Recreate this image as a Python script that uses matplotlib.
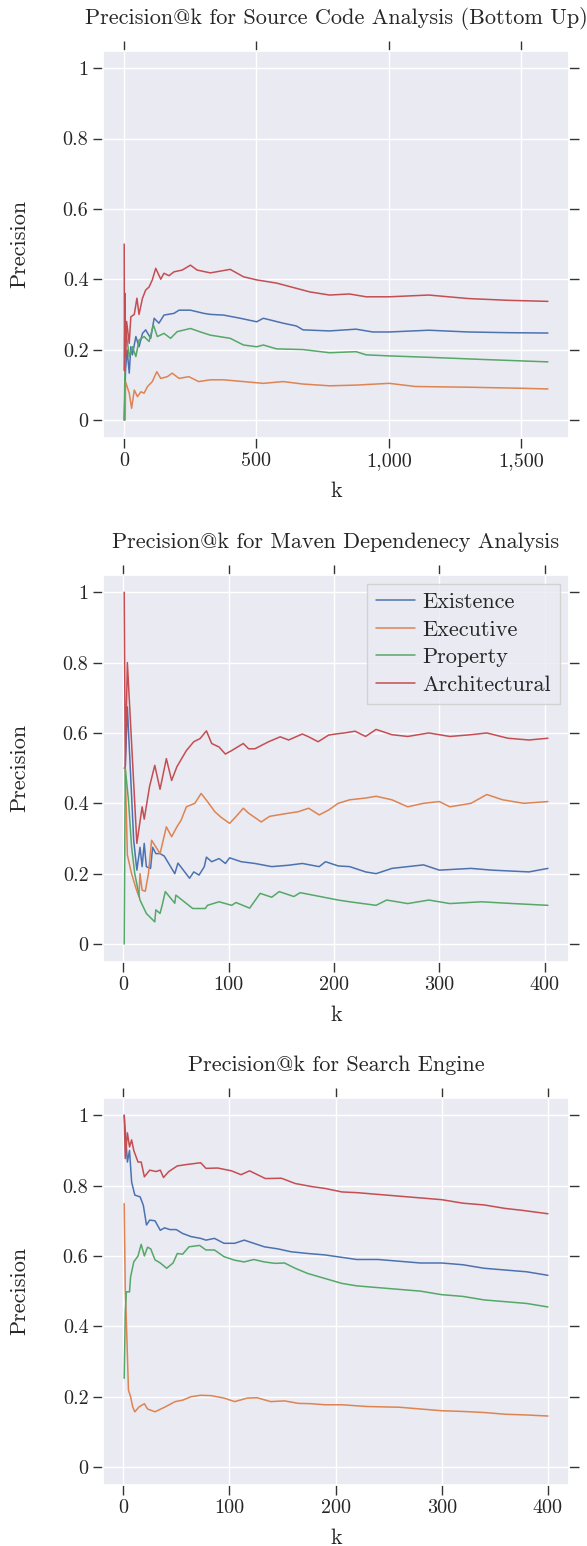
import matplotlib
matplotlib.use("Agg")
import matplotlib.pyplot as plt
import seaborn as sns
from matplotlib.ticker import FuncFormatter

# --- Source code analysis (bottom up) ---
src_k_existence = [1, 6, 12, 20, 26, 32, 45, 57, 70, 82, 101, 114, 132, 151, 189, 208, 251, 301, 326, 376, 439, 501, 526, 601, 651, 676, 776, 876, 939, 1001, 1150, 1300, 1450, 1600]
src_p_existence = [0.0, 0.142, 0.199, 0.133, 0.208, 0.185, 0.237, 0.208, 0.246, 0.256, 0.232, 0.289, 0.275, 0.298, 0.303, 0.312, 0.312, 0.303, 0.3, 0.298, 0.289, 0.279, 0.289, 0.275, 0.267, 0.256, 0.253, 0.258, 0.25, 0.25, 0.255, 0.25, 0.248, 0.247]
src_k_executive = [1, 5, 6, 20, 29, 39, 51, 64, 76, 89, 107, 124, 139, 164, 182, 208, 245, 282, 326, 376, 451, 526, 601, 676, 776, 876, 1001, 1100, 1300, 1500, 1600]
src_p_executive = [0.0, 0.0, 0.109, 0.076, 0.033, 0.085, 0.066, 0.08, 0.076, 0.095, 0.109, 0.137, 0.118, 0.123, 0.133, 0.118, 0.123, 0.109, 0.114, 0.114, 0.109, 0.104, 0.109, 0.102, 0.097, 0.099, 0.104, 0.095, 0.093, 0.09, 0.088]
src_k_property = [1, 6, 12, 20, 32, 45, 57, 76, 95, 111, 126, 151, 176, 201, 251, 289, 326, 401, 451, 501, 526, 576, 676, 776, 876, 914, 1001, 1150, 1350, 1600]
src_p_property = [0.0, 0.265, 0.227, 0.18, 0.208, 0.18, 0.227, 0.237, 0.223, 0.27, 0.237, 0.246, 0.232, 0.251, 0.26, 0.25, 0.241, 0.232, 0.213, 0.208, 0.213, 0.202, 0.2, 0.191, 0.194, 0.185, 0.182, 0.178, 0.172, 0.165]
src_k_architectural = [1, 2, 4, 6, 10, 20, 26, 39, 49, 57, 70, 82, 95, 107, 120, 139, 151, 170, 189, 220, 251, 276, 326, 401, 451, 501, 576, 651, 701, 776, 851, 914, 1001, 1150, 1300, 1450, 1600]
src_p_architectural = [0.5, 0.14, 0.36, 0.18, 0.28, 0.218, 0.293, 0.3, 0.346, 0.3, 0.346, 0.369, 0.378, 0.398, 0.431, 0.4, 0.417, 0.41, 0.421, 0.426, 0.44, 0.426, 0.418, 0.428, 0.407, 0.398, 0.389, 0.374, 0.364, 0.355, 0.358, 0.35, 0.35, 0.355, 0.345, 0.34, 0.337]

# --- Maven dependency analysis ---
mvn_k_existence = [1, 2, 4, 10, 13, 16, 18, 20, 22, 26, 28, 31, 35, 39, 49, 52, 63, 67, 72, 77, 79, 84, 91, 97, 101, 112, 125, 141, 157, 170, 186, 192, 204, 215, 230, 240, 255, 270, 285, 300, 330, 350, 385, 403]
mvn_p_existence = [0.5, 0.5, 0.674, 0.295, 0.21, 0.275, 0.22, 0.286, 0.22, 0.215, 0.275, 0.257, 0.257, 0.25, 0.2, 0.23, 0.187, 0.205, 0.196, 0.22, 0.247, 0.234, 0.243, 0.229, 0.245, 0.234, 0.229, 0.22, 0.224, 0.229, 0.22, 0.234, 0.222, 0.22, 0.205, 0.2, 0.215, 0.22, 0.225, 0.21, 0.215, 0.21, 0.205, 0.215]
mvn_k_executive = [1, 2, 4, 8, 12, 15, 16, 18, 21, 24, 27, 31, 35, 41, 46, 51, 55, 60, 68, 74, 80, 87, 93, 101, 107, 114, 119, 131, 139, 157, 166, 176, 186, 195, 204, 215, 230, 240, 255, 270, 285, 300, 310, 330, 345, 360, 380, 403]
mvn_p_executive = [0.5, 0.5, 0.253, 0.2, 0.16, 0.134, 0.2, 0.153, 0.15, 0.2, 0.295, 0.276, 0.257, 0.333, 0.305, 0.333, 0.352, 0.39, 0.4, 0.428, 0.405, 0.376, 0.36, 0.343, 0.362, 0.386, 0.372, 0.347, 0.363, 0.372, 0.376, 0.386, 0.367, 0.381, 0.4, 0.41, 0.415, 0.42, 0.41, 0.39, 0.4, 0.405, 0.39, 0.4, 0.425, 0.41, 0.4, 0.405]
mvn_k_property = [1, 2, 5, 8, 11, 16, 22, 30, 31, 35, 37, 40, 49, 50, 66, 78, 80, 91, 103, 107, 120, 130, 141, 148, 162, 168, 204, 215, 240, 250, 270, 290, 310, 340, 370, 403]
mvn_p_property = [0.0, 0.5, 0.41, 0.276, 0.2, 0.125, 0.087, 0.063, 0.097, 0.087, 0.11, 0.149, 0.116, 0.139, 0.101, 0.101, 0.11, 0.12, 0.11, 0.118, 0.102, 0.144, 0.133, 0.149, 0.135, 0.146, 0.125, 0.12, 0.11, 0.125, 0.115, 0.125, 0.115, 0.12, 0.115, 0.11]
mvn_k_architectural = [1, 2, 4, 13, 18, 20, 25, 30, 35, 41, 46, 51, 60, 67, 73, 79, 84, 91, 97, 103, 114, 119, 125, 138, 149, 157, 170, 176, 185, 195, 204, 210, 220, 230, 240, 255, 270, 290, 310, 330, 345, 365, 385, 403]
mvn_p_architectural = [1.0, 0.504, 0.8, 0.286, 0.39, 0.355, 0.447, 0.508, 0.44, 0.527, 0.465, 0.504, 0.55, 0.575, 0.584, 0.606, 0.57, 0.56, 0.54, 0.55, 0.57, 0.555, 0.555, 0.575, 0.589, 0.58, 0.597, 0.589, 0.575, 0.594, 0.598, 0.6, 0.605, 0.59, 0.61, 0.595, 0.59, 0.6, 0.59, 0.595, 0.6, 0.585, 0.58, 0.585]

# --- Search engine ---
se_k_existence = [1, 4, 6, 8, 11, 16, 19, 22, 25, 30, 35, 39, 44, 50, 56, 64, 73, 78, 86, 95, 105, 114, 123, 133, 146, 158, 174, 190, 206, 220, 240, 260, 280, 300, 320, 340, 360, 380, 400]
se_p_existence = [1.0, 0.867, 0.9, 0.81, 0.773, 0.768, 0.744, 0.688, 0.702, 0.7, 0.673, 0.68, 0.675, 0.675, 0.664, 0.655, 0.65, 0.645, 0.65, 0.636, 0.636, 0.645, 0.636, 0.626, 0.62, 0.612, 0.607, 0.603, 0.596, 0.59, 0.59, 0.585, 0.58, 0.58, 0.575, 0.565, 0.56, 0.555, 0.545]
se_k_executive = [1, 2, 3, 5, 7, 9, 11, 15, 20, 23, 30, 39, 49, 56, 64, 73, 83, 95, 105, 117, 126, 139, 152, 165, 177, 190, 206, 230, 260, 280, 300, 320, 340, 360, 380, 400]
se_p_executive = [0.749, 0.503, 0.418, 0.219, 0.2, 0.171, 0.157, 0.171, 0.18, 0.165, 0.157, 0.17, 0.186, 0.19, 0.2, 0.204, 0.203, 0.196, 0.186, 0.196, 0.197, 0.186, 0.188, 0.181, 0.18, 0.177, 0.177, 0.172, 0.17, 0.165, 0.16, 0.158, 0.155, 0.15, 0.148, 0.145]
se_k_property = [1, 2, 3, 6, 7, 10, 14, 17, 20, 23, 26, 30, 35, 41, 47, 51, 56, 62, 72, 78, 86, 95, 105, 114, 123, 133, 143, 152, 162, 174, 190, 206, 220, 240, 260, 280, 300, 320, 340, 360, 380, 400]
se_p_property = [0.252, 0.437, 0.498, 0.498, 0.54, 0.583, 0.6, 0.633, 0.6, 0.625, 0.62, 0.589, 0.58, 0.565, 0.58, 0.607, 0.605, 0.626, 0.63, 0.617, 0.617, 0.598, 0.588, 0.583, 0.59, 0.583, 0.579, 0.58, 0.565, 0.55, 0.536, 0.522, 0.515, 0.51, 0.505, 0.5, 0.49, 0.485, 0.475, 0.47, 0.465, 0.455]
se_k_architectural = [1, 2, 4, 6, 8, 10, 14, 17, 20, 25, 31, 35, 38, 43, 51, 60, 73, 78, 89, 102, 111, 119, 134, 149, 162, 178, 190, 206, 220, 240, 260, 280, 300, 320, 340, 360, 375, 400]
se_p_architectural = [1.0, 0.877, 0.95, 0.91, 0.93, 0.9, 0.867, 0.867, 0.825, 0.844, 0.84, 0.844, 0.823, 0.84, 0.856, 0.86, 0.865, 0.849, 0.85, 0.842, 0.831, 0.842, 0.82, 0.821, 0.806, 0.797, 0.792, 0.782, 0.78, 0.775, 0.77, 0.765, 0.76, 0.75, 0.745, 0.735, 0.73, 0.72]

labels = ["Existence", "Executive", "Property", "Architectural"]
titles = ["Precision@k for Source Code Analysis (Bottom Up)",
          "Precision@k for Maven Dependenecy Analysis",
          "Precision@k for Search Engine"]
y_ticks = [0, 0.2, 0.4, 0.6, 0.8, 1]
y_ticklabels = ["0", "0.2", "0.4", "0.6", "0.8", "1"]
x_ticks = [[0, 500, 1000, 1500], [0, 100, 200, 300, 400], [0, 100, 200, 300, 400]]

panels = [
    [(src_k_existence, src_p_existence), (src_k_executive, src_p_executive),
     (src_k_property, src_p_property), (src_k_architectural, src_p_architectural)],
    [(mvn_k_existence, mvn_p_existence), (mvn_k_executive, mvn_p_executive),
     (mvn_k_property, mvn_p_property), (mvn_k_architectural, mvn_p_architectural)],
    [(se_k_existence, se_p_existence), (se_k_executive, se_p_executive),
     (se_k_property, se_p_property), (se_k_architectural, se_p_architectural)],
]

sns.set_theme(style="darkgrid")
plt.rcParams["font.family"] = ["cmr10", "DejaVu Serif"]
plt.rcParams["axes.formatter.use_mathtext"] = True
colors = sns.color_palette("deep", 4)

fig = plt.figure(figsize=(5.87, 15.46), dpi=100)
bottoms = [0.717, 0.378, 0.0397]
for i, series in enumerate(panels):
    ax = fig.add_axes([0.1755, bottoms[i], 0.794, 0.2503])
    for (k, p), c, lab in zip(series, colors, labels):
        ax.plot(k, p, color=c, lw=1.1, label=lab)
    ax.set_title(titles[i], fontsize=16, pad=19)
    ax.set_xlabel("k", fontsize=16, labelpad=8)
    ax.set_ylabel("Precision", fontsize=16, labelpad=24)
    ax.set_yticks(y_ticks)
    ax.set_yticklabels(y_ticklabels)
    ax.set_xticks(x_ticks[i])
    ax.xaxis.set_major_formatter(FuncFormatter(lambda v, pos: f"{int(v):,}"))
    ax.set_ylim(-0.05, 1.05)
    ax.tick_params(axis="both", which="major", direction="out", length=7, width=1,
                   color="#333333", labelsize=14.5, top=True, right=True, bottom=True, left=True,
                   labeltop=False, labelright=False)
    if i == 1:
        ax.legend(loc="upper right", fontsize=16, frameon=True, fancybox=False,
                  edgecolor="#cccccc", facecolor="#eaeaf2", framealpha=0.8,
                  handlelength=1.75, borderpad=0.4, labelspacing=0.36,
                  handletextpad=0.35, borderaxespad=0.4)

fig.savefig("out.png", dpi=100)
